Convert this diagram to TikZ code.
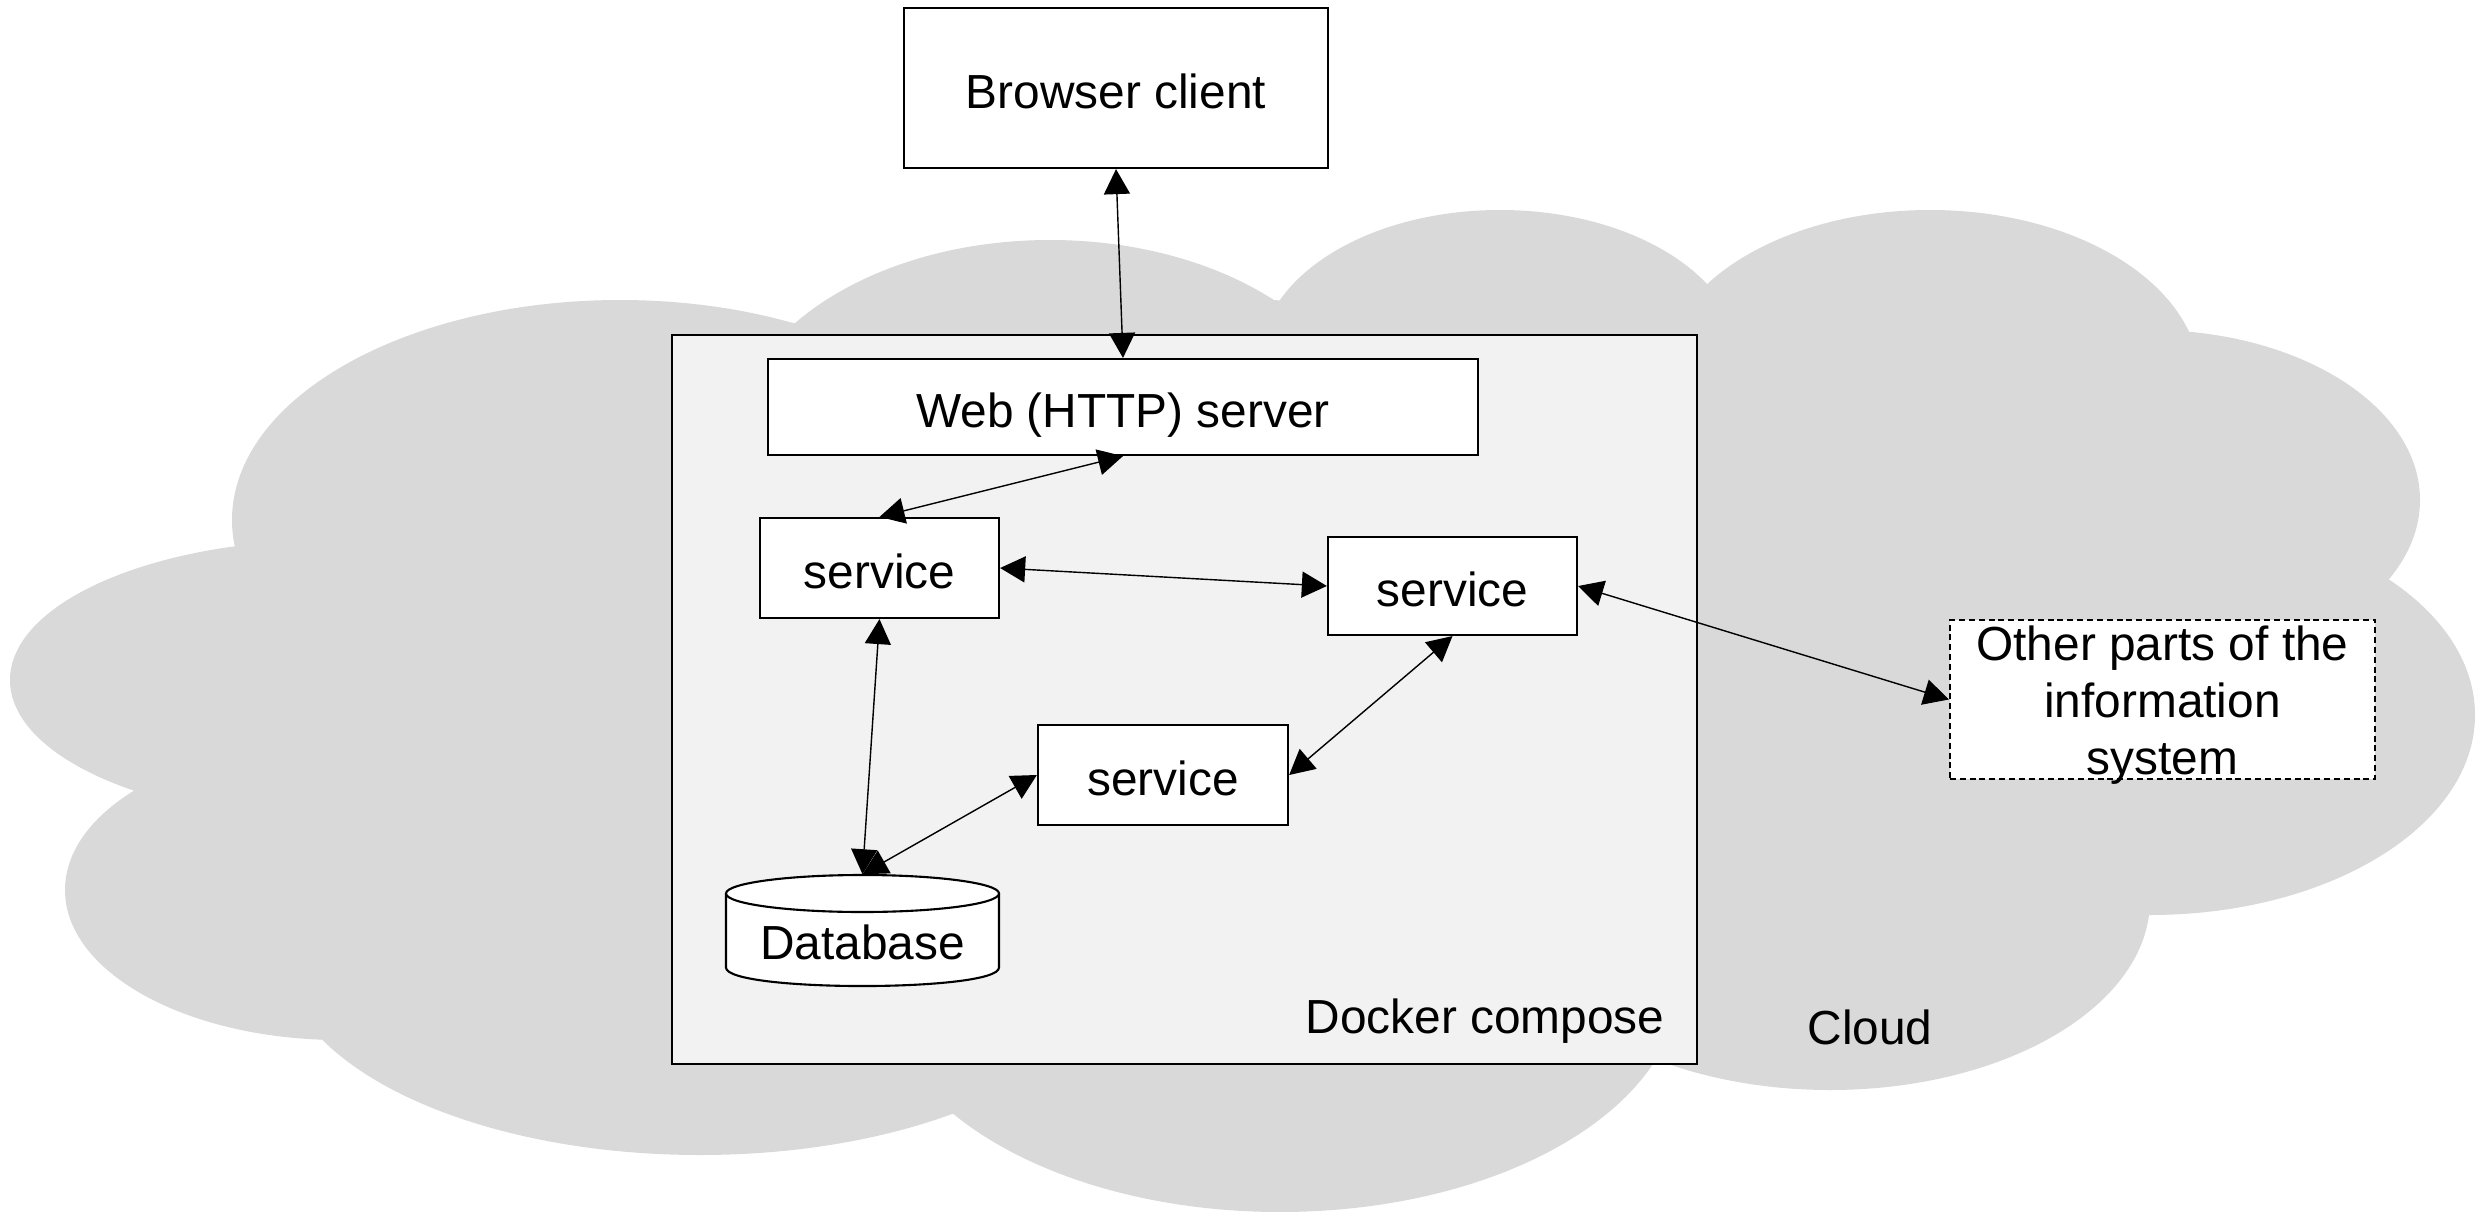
\documentclass[tikz,border=0pt]{standalone}
\usepackage{fontspec}
\setmainfont{Liberation Sans}
\usetikzlibrary{arrows.meta}
\definecolor{cloudgray}{RGB}{217,217,217}
\definecolor{composegray}{RGB}{242,242,242}
\tikzset{
  box/.style={draw=black, line width=0.6pt, fill=white, inner sep=0pt,
    text height=12.2pt, text depth=0.8pt},
  dashbox/.style={draw=black, line width=0.6pt, fill=white, inner sep=0pt,
    dash pattern=on 1.7pt off 1.1pt},
  composebox/.style={draw=black, line width=0.6pt, fill=composegray, inner sep=0pt},
  label/.style={inner sep=0pt},
  link/.style={line width=0.4pt,
    arrows={Triangle[length=0.25cm,width=0.26cm]-Triangle[length=0.25cm,width=0.26cm]}},
  lobe/.style={fill=cloudgray}
}
\begin{document}
\begin{tikzpicture}[x=0.01cm, y=-0.01cm,
  every node/.style={font=\fontsize{13.6}{16.2}\selectfont}]
\useasboundingbox (0,0) rectangle (2478,1212);

% cloud built from overlapping lobes
\fill[lobe] (330,680) ellipse [x radius=320, y radius=140];
\fill[lobe] (620,520) ellipse [x radius=388, y radius=220];
\fill[lobe] (1050,450) ellipse [x radius=320, y radius=210];
\fill[lobe] (1500,360) ellipse [x radius=240, y radius=150];
\fill[lobe] (1930,380) ellipse [x radius=270, y radius=170];
\fill[lobe] (2150,500) ellipse [x radius=270, y radius=170];
\fill[lobe] (2150,715) ellipse [x radius=325, y radius=200];
\fill[lobe] (1830,900) ellipse [x radius=320, y radius=190];
\fill[lobe] (1280,980) ellipse [x radius=400, y radius=232];
\fill[lobe] (340,890) ellipse [x radius=275, y radius=150];
\fill[lobe] (700,950) ellipse [x radius=420, y radius=205];
\fill[lobe] (1240,680) ellipse [x radius=1000, y radius=380];
\node[label, anchor=base] (cloudlabel) at (1870,1044) {Cloud};

% docker compose frame
\node[composebox, minimum width=10.25cm, minimum height=7.29cm] (compose) at (1184.5,699.5) {};
\node[label, anchor=base east] (composelabel) at (1665,1033) {Docker compose};

% components
\node[box, minimum width=4.24cm, minimum height=1.60cm] (browser) at (1116,88) {Browser client};
\node[box, minimum width=7.10cm, minimum height=0.96cm] (web) at (1123,407) {Web (HTTP) server};
\node[box, minimum width=2.39cm, minimum height=1.00cm] (s1) at (879.5,568) {service};
\node[box, minimum width=2.49cm, minimum height=0.98cm] (s2) at (1452.5,586) {service};
\node[box, minimum width=2.50cm, minimum height=1.00cm] (s3) at (1163,775) {service};
\node[dashbox, minimum width=4.25cm, minimum height=1.59cm] (other) at (2162.5,699.5) {};
\node[label, align=center] (othertext) at (2162.5,705.5) {Other parts of the\\information\\system};

% database cylinder
\node[inner sep=0pt, minimum width=2.73cm, minimum height=1.11cm] (db) at (862.5,930.5) {};
\filldraw[fill=white, draw=black, line width=0.6pt]
  (726,893.5) -- (726,967.5) .. controls (726,992.2) and (999,992.2) .. (999,967.5)
  -- (999,893.5);
\filldraw[fill=white, draw=black, line width=0.6pt]
  (862.5,893.5) ellipse [x radius=136.5, y radius=18.5];
\node[label] (dbtext) at (862.5,942) {Database};

% connectors
\draw[link] (browser.south) -- (web.north);
\draw[link] (web.south) -- (s1.north);
\draw[link] (s1.east) -- (s2.west);
\draw[link] (s2.east) -- (other.west);
\draw[link] (s2.south) -- (s3.east);
\draw[link] (s1.south) -- (db.north);
\draw[link] (s3.west) -- (db.north);
\end{tikzpicture}
\end{document}
